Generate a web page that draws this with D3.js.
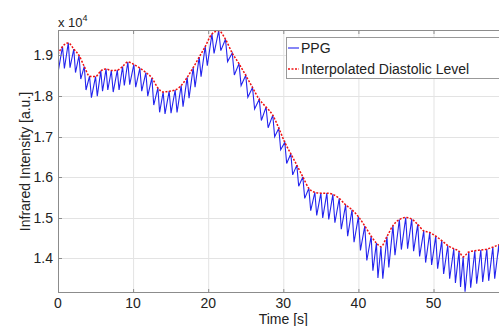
<!DOCTYPE html>
<html>
<head>
<meta charset="utf-8">
<script src="https://cdn.jsdelivr.net/npm/d3@7"></script>
<style>
  body { margin: 0; background: #fff; }
  svg { display: block; font-family: "Liberation Sans", Arial, sans-serif; }
</style>
</head>
<body>
<svg id="chart" width="499" height="326"></svg>
<script>
// diastolic (peak) points of the PPG, seconds / raw intensity
const diaTime = [0, 0.6, 1.37, 2.1, 2.8, 3.5, 4.2, 5.0, 5.7, 6.4, 7.1, 7.9, 8.6, 9.3, 10.1, 10.9, 11.7, 12.5, 13.3, 14.0,
  14.8, 15.6, 16.4, 17.2, 18.0, 18.8, 19.6, 20.5, 21.4, 22.3, 23.2, 24.1, 25.0, 25.9, 26.8, 27.7, 28.6, 29.4, 30.2, 31.0,
  31.8, 32.6, 33.4, 34.2, 35.0, 35.8, 36.6, 37.45, 38.3, 39.15, 40.0, 40.85, 41.7, 42.4, 43.0, 43.8, 44.6, 45.45, 46.3, 47.1,
  47.9, 48.7, 49.5, 50.3, 51.1, 51.9, 52.7, 53.4, 53.95, 54.7, 55.5, 56.3, 57.1, 57.9, 58.7];
const diaValue = [19030, 19220, 19310, 19160, 19000, 18730, 18490, 18480, 18620, 18670, 18630, 18640, 18730, 18840, 18780, 18690, 18580, 18450, 18200, 18100,
  18120, 18150, 18260, 18460, 18700, 18960, 19220, 19530, 19610, 19400, 19060, 18800, 18510, 18210, 17920, 17730, 17530, 17210, 16860, 16580,
  16300, 16010, 15730, 15630, 15610, 15610, 15580, 15480, 15320, 15200, 15030, 14800, 14550, 14380, 14290, 14540, 14810, 14960, 15010, 14970,
  14840, 14680, 14640, 14550, 14440, 14320, 14240, 14180, 14040, 14160, 14190, 14210, 14230, 14280, 14340];

// systolic (trough) points between the beats
const sysTime = [0, 0.85, 1.6, 2.33, 3.03, 3.73, 4.45, 5.23, 5.93, 6.63, 7.35, 8.13, 8.83, 9.55, 10.35, 11.15, 11.95, 12.75, 13.53, 14.25,
  15.05, 15.85, 16.65, 17.45, 18.25, 19.05, 19.88, 20.78, 21.68, 22.58, 23.48, 24.38, 25.28, 26.18, 27.08, 27.98, 28.85, 29.65, 30.45, 31.25,
  32.05, 32.85, 33.65, 34.45, 35.25, 36.05, 36.87, 37.72, 38.57, 39.42, 40.27, 41.12, 41.93, 42.6, 43.25, 44.05, 44.87, 45.72, 46.55, 47.35,
  48.15, 48.95, 49.75, 50.55, 51.35, 52.15, 52.92, 53.6, 54.2, 54.95, 55.75, 56.55, 57.35, 58.15, 58.95];
const sysValue = [18580, 18680, 18700, 18580, 18420, 18150, 17960, 18000, 18120, 18150, 18100, 18150, 18260, 18280, 18220, 18120, 18000, 17780, 17600, 17560,
  17580, 17600, 17740, 17950, 18220, 18480, 18750, 19050, 19120, 18850, 18520, 18260, 17970, 17680, 17400, 17220, 17000, 16680, 16340, 16060,
  15780, 15480, 15180, 15060, 15000, 14960, 14880, 14720, 14550, 14400, 14200, 13950, 13700, 13520, 13500, 13780, 14080, 14220, 14240, 14180,
  14050, 13900, 13840, 13750, 13620, 13500, 13400, 13300, 13180, 13280, 13380, 13420, 13450, 13500, 13600];

const xTicks = [0, 10, 20, 30, 40, 50, 60];
const xTickLabels = ['0', '10', '20', '30', '40', '50', ''];
const yTicks = [14000, 15000, 16000, 17000, 18000, 19000];

const svg = d3.select('#chart');
const mLeft = 58, mTop = 30, plotW = 450.6, plotH = 263;

const x = d3.scaleLinear().domain([0, 60]).range([mLeft, mLeft + plotW]);
const y = d3.scaleLinear().domain([13150, 19628]).range([mTop + plotH, mTop]);

// ppg = troughs and peaks in time order (first diastolic point is only the interpolation start)
const ppg = [];
sysTime.forEach((t, i) => {
  ppg.push([t, sysValue[i]]);
  if (i + 1 < diaTime.length) ppg.push([diaTime[i + 1], diaValue[i + 1]]);
});
const dia = diaTime.map((t, i) => [t, diaValue[i]]);

svg.append('defs').append('clipPath').attr('id', 'clip')
  .append('rect').attr('x', mLeft).attr('y', mTop).attr('width', plotW).attr('height', plotH);

// grid
const grid = svg.append('g').attr('stroke', '#e3e3e3').attr('stroke-width', 1);
grid.selectAll('.gx').data(xTicks.slice(1)).enter().append('line')
  .attr('x1', d => x(d) + 0.5).attr('x2', d => x(d) + 0.5)
  .attr('y1', mTop).attr('y2', mTop + plotH);
grid.selectAll('.gy').data(yTicks).enter().append('line')
  .attr('x1', mLeft).attr('x2', mLeft + plotW)
  .attr('y1', d => Math.round(y(d)) + 0.5).attr('y2', d => Math.round(y(d)) + 0.5);

const plot = svg.append('g').attr('clip-path', 'url(#clip)');

plot.append('path')
  .datum(ppg)
  .attr('fill', 'none')
  .attr('stroke', '#2424ee')
  .attr('stroke-width', 1.1)
  .attr('d', d3.line().x(d => x(d[0])).y(d => y(d[1])));

plot.append('path')
  .datum(dia)
  .attr('fill', 'none')
  .attr('stroke', '#f01010')
  .attr('stroke-width', 1.5)
  .attr('stroke-dasharray', '2,1.5')
  .attr('d', d3.line().curve(d3.curveMonotoneX).x(d => x(d[0])).y(d => y(d[1])));

// axes box and inward ticks
const axisColor = '#8c8c8c';
svg.append('rect')
  .attr('x', mLeft + 0.5).attr('y', mTop + 0.5)
  .attr('width', plotW).attr('height', plotH - 1)
  .attr('fill', 'none').attr('stroke', axisColor);

const tk = svg.append('g').attr('stroke', axisColor);
tk.selectAll('.tb').data(xTicks).enter().append('line')
  .attr('x1', d => x(d) + 0.5).attr('x2', d => x(d) + 0.5)
  .attr('y1', mTop + plotH).attr('y2', mTop + plotH - 4);
tk.selectAll('.tt').data(xTicks).enter().append('line')
  .attr('x1', d => x(d) + 0.5).attr('x2', d => x(d) + 0.5)
  .attr('y1', mTop).attr('y2', mTop + 4);
tk.selectAll('.tl').data(yTicks).enter().append('line')
  .attr('x1', mLeft).attr('x2', mLeft + 4)
  .attr('y1', d => Math.round(y(d)) + 0.5).attr('y2', d => Math.round(y(d)) + 0.5);

const textColor = '#222';
svg.append('g').selectAll('text').data(xTicks.filter((d, i) => xTickLabels[i])).enter().append('text')
  .attr('x', d => x(d)).attr('y', 308)
  .attr('text-anchor', 'middle').attr('font-size', 14).attr('fill', textColor)
  .text(d => xTickLabels[xTicks.indexOf(d)]);

svg.append('g').selectAll('text').data(yTicks).enter().append('text')
  .attr('x', 53).attr('y', d => y(d) + 5)
  .attr('text-anchor', 'end').attr('font-size', 14).attr('fill', textColor)
  .text(d => d3.format('.1f')(d / 1e4));

const mult = svg.append('text').attr('x', 58).attr('y', 27).attr('font-size', 13).attr('fill', textColor);
mult.append('tspan').text('x 10');
mult.append('tspan').attr('font-size', 9).attr('dy', -6).text('4');

svg.append('text')
  .attr('x', x(30)).attr('y', 324)
  .attr('text-anchor', 'middle').attr('font-size', 14).attr('fill', textColor)
  .text('Time [s]');

svg.append('text')
  .attr('transform', `translate(30,${mTop + plotH / 2}) rotate(-90)`)
  .attr('text-anchor', 'middle').attr('font-size', 14).attr('fill', textColor)
  .text('Infrared Intensity [a.u.]');

// legend
const lg = svg.append('g');
lg.append('rect')
  .attr('x', 286.5).attr('y', 37.5).attr('width', 230).attr('height', 41)
  .attr('fill', '#fff').attr('stroke', '#999');
lg.append('line').attr('x1', 288).attr('x2', 299).attr('y1', 48).attr('y2', 48)
  .attr('stroke', '#2424ee').attr('stroke-width', 1.1);
lg.append('line').attr('x1', 288).attr('x2', 299).attr('y1', 69).attr('y2', 69)
  .attr('stroke', '#f01010').attr('stroke-width', 1.5).attr('stroke-dasharray', '2,1.5');
lg.append('text').attr('x', 301).attr('y', 53).attr('font-size', 14).attr('fill', textColor).text('PPG');
lg.append('text').attr('x', 301).attr('y', 74).attr('font-size', 14).attr('fill', textColor).text('Interpolated Diastolic Level');
</script>
</body>
</html>
